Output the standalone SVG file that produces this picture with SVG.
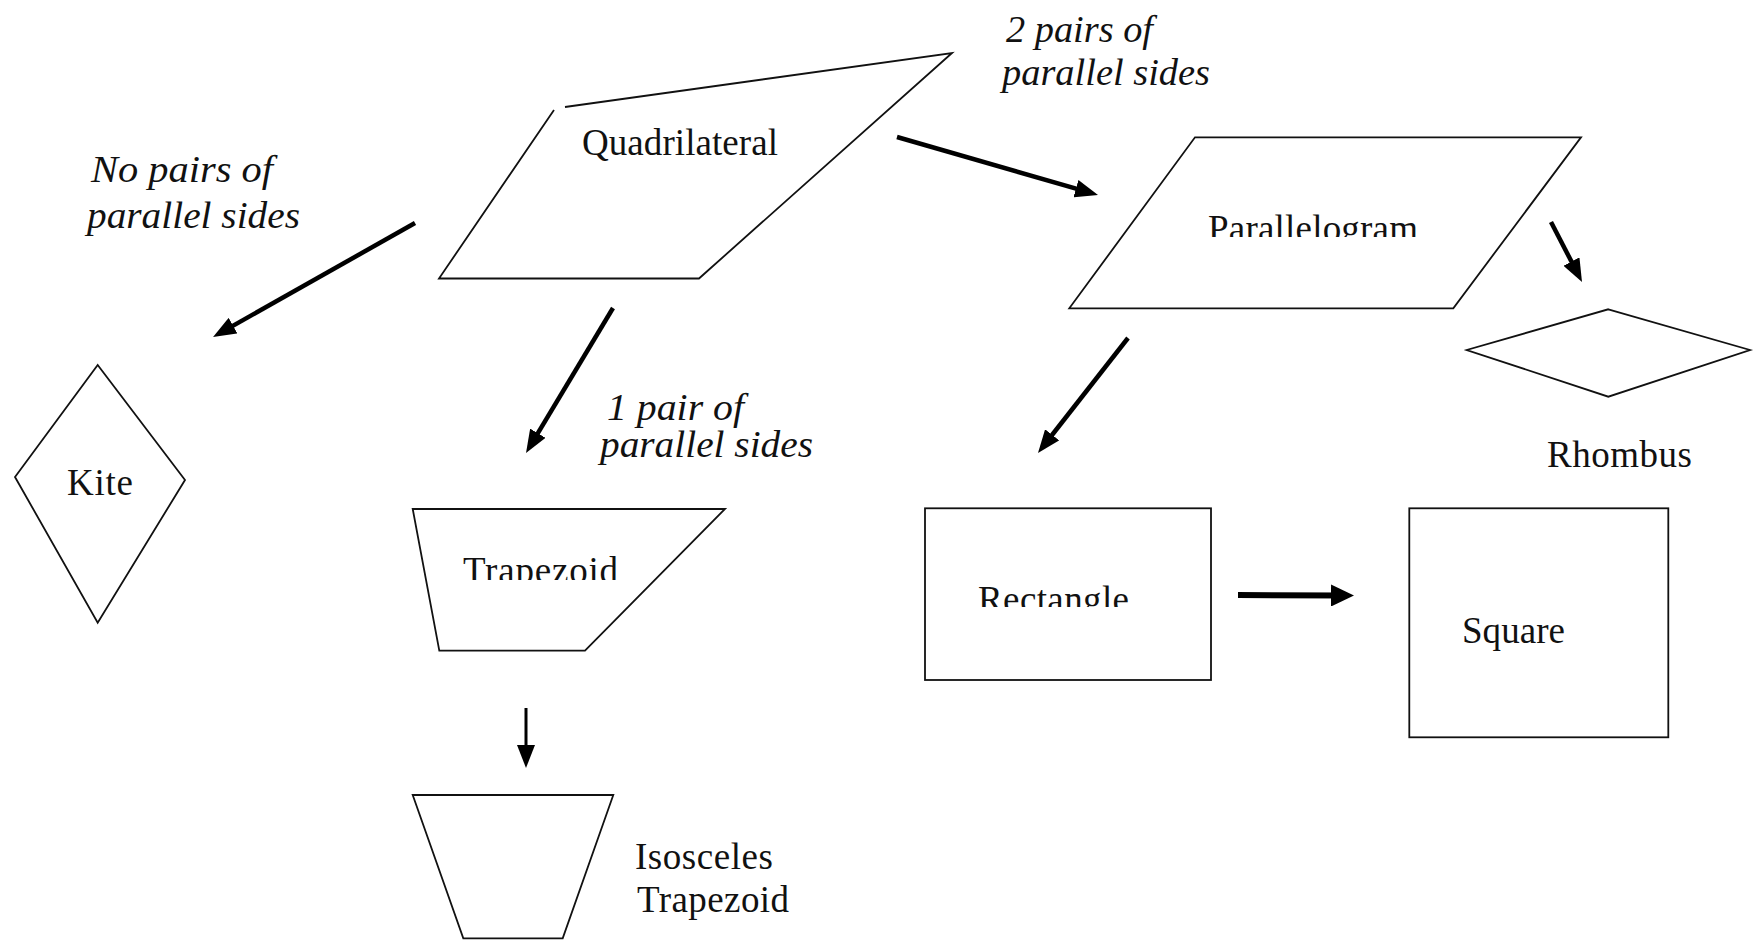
<svg xmlns="http://www.w3.org/2000/svg" width="1754" height="949" viewBox="0 0 1754 949">
  <style>
    .shape { fill: #ffffff; stroke: #111111; stroke-width: 1.8; stroke-linejoin: miter; }
    .lbl { font-family: "Liberation Serif", "Times New Roman", serif; font-size: 37px; fill: #111111; }
    .it { font-style: italic; }
    .arrow { fill: none; stroke: #000000; stroke-width: 4.5; stroke-linecap: butt; marker-end: url(#head); }
    .arrow.thin { stroke-width: 3; }
    .arrow.thick { stroke-width: 6; marker-end: url(#headBig); }
  </style>
  <defs>
    <marker id="head" markerUnits="userSpaceOnUse" markerWidth="24" markerHeight="18" viewBox="0 0 24 18" refX="11" refY="9" orient="auto">
      <path d="M0,0 L23,9 L0,18 z" fill="#000000"/>
    </marker>
    <marker id="headBig" markerUnits="userSpaceOnUse" markerWidth="24" markerHeight="22" viewBox="0 0 24 22" refX="11" refY="11" orient="auto">
      <path d="M0,0 L23,11 L0,22 z" fill="#000000"/>
    </marker>
    <clipPath id="clipTrap"><rect x="440" y="530" width="260" height="50"/></clipPath>
    <clipPath id="clipPara"><rect x="1190" y="190" width="260" height="47"/></clipPath>
    <clipPath id="clipRect"><rect x="960" y="560" width="200" height="47"/></clipPath>
  </defs>
  <rect x="0" y="0" width="1754" height="949" fill="#ffffff"/>

  <g id="connectors">
    <path class="arrow" d="M415,223 L223.5,331.1"/>
    <path class="arrow" d="M613,308 L532.2,442.7"/>
    <path class="arrow thin" d="M526,708 L526,756"/>
    <path class="arrow" d="M897,137 L1086.5,191.7"/>
    <path class="arrow" d="M1551,222 L1576.5,271.3"/>
    <path class="arrow" d="M1128,338 L1045.4,443.5"/>
    <path class="arrow thick" d="M1238,595 L1342,595.5"/>
  </g>

  <g id="edge-labels">
    <text class="lbl it" x="91" y="182" textLength="182" lengthAdjust="spacingAndGlyphs">No pairs of</text>
    <text class="lbl it" x="87" y="228" textLength="213" lengthAdjust="spacingAndGlyphs">parallel sides</text>
    <text class="lbl it" x="1006" y="42" textLength="147" lengthAdjust="spacingAndGlyphs">2 pairs of</text>
    <text class="lbl it" x="1002" y="85" textLength="208" lengthAdjust="spacingAndGlyphs">parallel sides</text>
    <text class="lbl it" x="607" y="420" textLength="137" lengthAdjust="spacingAndGlyphs">1 pair of</text>
    <text class="lbl it" x="600" y="457" textLength="213" lengthAdjust="spacingAndGlyphs">parallel sides</text>
  </g>

  <g id="quadrilateral">
    <path class="shape" d="M565,107 L952,53 L699,278.5 L439,278.5 L554,110" fill="none"/>
    <text class="lbl" x="582" y="155" textLength="196" lengthAdjust="spacing">Quadrilateral</text>
  </g>

  <g id="kite">
    <polygon class="shape" points="97.7,365 185,480 97.7,622.7 15,477"/>
    <text class="lbl" x="67" y="495" textLength="66" lengthAdjust="spacing">Kite</text>
  </g>

  <g id="trapezoid">
    <polygon class="shape" points="412.7,509 725,509 585,650.7 439.3,650.7"/>
    <text class="lbl" x="463" y="583" textLength="155" lengthAdjust="spacing" clip-path="url(#clipTrap)">Trapezoid</text>
  </g>

  <g id="isosceles-trapezoid">
    <polygon class="shape" points="412.7,795 613.3,795 562.7,938.3 463.3,938.3"/>
    <text class="lbl" x="635" y="869" textLength="138" lengthAdjust="spacing">Isosceles</text>
    <text class="lbl" x="637" y="912" textLength="152" lengthAdjust="spacing">Trapezoid</text>
  </g>

  <g id="parallelogram">
    <polygon class="shape" points="1195,137.3 1581,137.3 1453.3,308.3 1069.3,308.3"/>
    <text class="lbl" x="1208" y="241" textLength="210" lengthAdjust="spacing" clip-path="url(#clipPara)">Parallelogram</text>
  </g>

  <g id="rhombus">
    <polygon class="shape" points="1608.3,309.3 1750,350 1608.3,396.7 1466.7,350"/>
    <text class="lbl" x="1547" y="467" textLength="145" lengthAdjust="spacing">Rhombus</text>
  </g>

  <g id="rectangle">
    <rect class="shape" x="925" y="508.3" width="286" height="171.7"/>
    <text class="lbl" x="978" y="612" textLength="151" lengthAdjust="spacing" clip-path="url(#clipRect)">Rectangle</text>
  </g>

  <g id="square">
    <rect class="shape" x="1409.3" y="508.3" width="259" height="229"/>
    <text class="lbl" x="1462" y="643" textLength="103" lengthAdjust="spacing">Square</text>
  </g>
</svg>
